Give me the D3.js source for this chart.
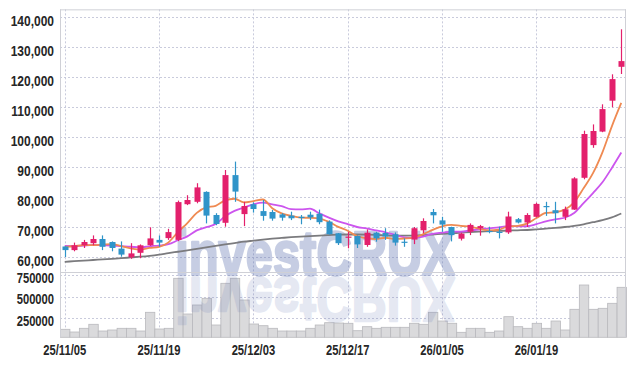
<!DOCTYPE html>
<html><head><meta charset="utf-8">
<script src="https://cdn.jsdelivr.net/npm/d3@7/dist/d3.min.js"></script>
<style>
html,body{margin:0;padding:0;background:#fff;}
svg{display:block;}
</style></head>
<body><svg id="chart" width="634" height="366"></svg>
<script>
// ---- data ----
const dates = ["25/11/05","25/11/06","25/11/07","25/11/10","25/11/11","25/11/12","25/11/13","25/11/14","25/11/17","25/11/18",
"25/11/19","25/11/20","25/11/21","25/11/24","25/11/25","25/11/26","25/11/27","25/11/28","25/12/01","25/12/02",
"25/12/03","25/12/04","25/12/05","25/12/08","25/12/09","25/12/10","25/12/11","25/12/12","25/12/15","25/12/16",
"25/12/17","25/12/18","25/12/19","25/12/22","25/12/23","25/12/24","25/12/26","25/12/29","25/12/30","26/01/02",
"26/01/05","26/01/06","26/01/07","26/01/08","26/01/09","26/01/12","26/01/13","26/01/14","26/01/15","26/01/16",
"26/01/19","26/01/20","26/01/21","26/01/22","26/01/23","26/01/26","26/01/27","26/01/28","26/01/29","26/01/30"];
const opens = [63600,62400,64000,64700,66100,65100,62900,60000,61500,64000,
65800,66400,65800,77700,78500,81800,74100,71500,87400,74400,
77700,75400,75100,74300,73900,73500,74200,74500,71900,68000,
66500,67100,64100,68200,68100,67700,65200,65900,69000,75100,
72300,70100,66200,68500,69700,68800,68500,68300,72700,71600,
73500,77100,75700,73500,75900,86500,97400,101900,112200,123500];
const highs = [63700,64900,65800,67300,67300,65300,65300,64700,64300,70000,
67300,69500,78900,80700,84700,82000,74700,89100,91900,78500,
78300,79100,75800,74700,75200,74100,75200,75900,72300,68100,
68500,67300,69300,68500,69700,68300,66300,70100,73000,76100,
73500,70200,68200,71300,70800,70200,70200,75200,73100,74700,
78200,78500,78500,76900,86700,102200,104300,111000,121000,136000];
const lows = [60100,62000,63100,64000,62400,62000,60200,59500,59700,63800,
63500,65800,65400,77400,78000,71300,70700,70200,78500,70400,
74900,72200,72200,72200,72400,71000,72400,71000,67600,64100,
63000,63100,63500,65200,65800,63900,63500,64400,68000,71300,
68500,65300,65600,67400,67200,68000,66300,67800,71300,70100,
73300,73800,71300,72400,75800,86000,96500,101700,110000,121100];
const closes = [62400,64000,65100,66100,63500,63100,60900,61300,64000,66300,
64900,68400,78400,79100,83300,73900,71100,87400,81900,77100,
76100,73800,72900,73200,73000,73300,73300,71700,67700,64700,
66900,64300,68200,66300,66900,64900,65000,69700,72100,74000,
70900,67400,67900,70800,70400,68500,68300,73600,71600,74100,
77800,76900,74700,76000,86300,101100,102100,109400,119400,125400];
// closes of the 9 sessions before 25/11/05 (needed for the moving averages)
const priorCloses = [64500,63500,64000,64500,64000,63000,63200,66000,62800];
// long moving average (grey line)
const maLong = [58500,58700,58900,59100,59300,59500,59700,59950,60200,60500,
60900,61400,61850,62300,62800,63300,63800,64300,64750,65200,
65550,65900,66200,66450,66700,66900,67050,67250,67400,67550,
67600,67600,67550,67450,67300,67200,67200,67250,67400,67600,
67800,68000,68200,68400,68550,68700,68800,68900,69000,69100,
69300,69550,69800,70100,70500,71000,71700,72400,73300,74600];
const volumes = [123500,92300,135000,181200,103900,115400,135000,135000,103900,319600,
126900,135000,711900,300000,403900,481200,173100,654200,711900,461500,
184600,165000,135000,103900,103900,103900,135000,173100,199700,196000,
192700,107300,153500,135000,146600,146600,146600,192700,181200,319600,
219200,192700,88800,135000,135000,88800,103900,268900,153500,135000,
192700,135000,219200,115400,354200,634600,354200,365800,423500,608100];
const priceTicks = [60000,70000,80000,90000,100000,110000,120000,130000,140000];
const volumeTicks = [250000,500000,750000];
const dateTickLabels = ["25/11/05","25/11/19","25/12/03","25/12/17","26/01/05","26/01/19"];
const maShortPeriod = 5, maMidPeriod = 10;

// ---- layout ----
const L = 60, R = 626, PT = 9.35, PB = 272, VT = 272.3, VB = 337.3;
const svg = d3.select("#chart");
const fontStack = "'Liberation Sans','Arial',sans-serif";
const squeeze = 0.8; // the original uses a condensed face

const x = d3.scaleBand().domain(dates).range([L, R]).padding(0);
const cx = d => x(d) + x.bandwidth() / 2;
const y = d3.scaleLinear().domain([55100, 142650]).range([PB, PT]);
const yv = d3.scaleLinear().domain([31190, 781150]).range([VB, VT]);

const candles = dates.map((d, i) => ({date: d, o: opens[i], h: highs[i], l: lows[i], c: closes[i], v: volumes[i]}));
const allCloses = priorCloses.concat(closes);
function movingAvg(n) {
  return dates.map((d, i) => {
    const end = i + priorCloses.length;
    return {date: d, v: d3.mean(allCloses.slice(end - n + 1, end + 1))};
  });
}
const ma5 = movingAvg(maShortPeriod);
const ma10 = movingAvg(maMidPeriod);
const maL = dates.map((d, i) => ({date: d, v: maLong[i]}));

// ---- grid ----
const grid = svg.append("g");
const gridColor = "#c9cbdc";
grid.selectAll("line.hp").data(priceTicks).join("line")
  .attr("x1", L).attr("x2", R).attr("y1", d => Math.round(y(d)) + 0.5).attr("y2", d => Math.round(y(d)) + 0.5)
  .attr("stroke", gridColor).attr("stroke-dasharray", "2,2");
grid.selectAll("line.hv").data(volumeTicks).join("line")
  .attr("x1", L).attr("x2", R).attr("y1", d => Math.round(yv(d)) + 0.5).attr("y2", d => Math.round(yv(d)) + 0.5)
  .attr("stroke", gridColor).attr("stroke-dasharray", "2,2");
grid.selectAll("line.v").data(dateTickLabels).join("line")
  .attr("x1", d => Math.round(cx(d)) + 0.5).attr("x2", d => Math.round(cx(d)) + 0.5)
  .attr("y1", PT).attr("y2", VB)
  .attr("stroke", gridColor).attr("stroke-dasharray", "2,2");

// ---- watermark (behind marks) ----
const wmColor = "rgb(100,120,180)";
svg.append("text").attr("transform", `translate(315,275) scale(${squeeze * 0.97},1)`).attr("text-anchor", "middle")
  .attr("font-family", fontStack).attr("font-weight", "bold").attr("font-size", 63)
  .attr("fill", wmColor).attr("stroke", wmColor).attr("stroke-width", 2.6).attr("stroke-linejoin", "round")
  .attr("opacity", 0.36).text("investCRUX");

// ---- volume bars ----
svg.append("g").selectAll("rect").data(candles).join("rect")
  .attr("x", d => x(d.date) + 0.5).attr("width", x.bandwidth())
  .attr("y", d => yv(d.v)).attr("height", d => VB - yv(d.v))
  .attr("fill", "#dadadc").attr("stroke", "#b9b9bd").attr("stroke-width", 0.8);

// reflection of the watermark over the volume panel
svg.append("defs").append("clipPath").attr("id", "vclip").append("rect")
  .attr("x", L).attr("y", VT).attr("width", R - L).attr("height", VB - VT);
svg.append("g").attr("clip-path", "url(#vclip)")
  .append("text").attr("transform", `translate(315,278) scale(${squeeze * 0.97},-1)`).attr("text-anchor", "middle")
  .attr("font-family", fontStack).attr("font-weight", "bold").attr("font-size", 63)
  .attr("fill", wmColor).attr("stroke", wmColor).attr("stroke-width", 2.6).attr("stroke-linejoin", "round")
  .attr("opacity", 0.17).text("investCRUX");

// ---- moving averages ----
const line = d3.line().x(d => cx(d.date)).y(d => y(d.v)).curve(d3.curveMonotoneX);
svg.append("path").datum(maL).attr("d", line).attr("fill", "none").attr("stroke", "#7b7b7e").attr("stroke-width", 1.8);
svg.append("path").datum(ma10).attr("d", line).attr("fill", "none").attr("stroke", "#cc55ee").attr("stroke-width", 1.8);
svg.append("path").datum(ma5).attr("d", line).attr("fill", "none").attr("stroke", "#ef8a52").attr("stroke-width", 1.8);

// ---- candles ----
const up = "#e3206c", down = "#2f94c9";
const bw = 6;
const cg = svg.append("g");
cg.selectAll("line").data(candles).join("line")
  .attr("x1", d => Math.round(cx(d.date)) + 0.5).attr("x2", d => Math.round(cx(d.date)) + 0.5)
  .attr("y1", d => y(d.h)).attr("y2", d => y(d.l))
  .attr("stroke", d => d.c >= d.o ? up : down).attr("stroke-width", 1.2);
cg.selectAll("rect").data(candles).join("rect")
  .attr("x", d => Math.round(cx(d.date)) + 0.5 - bw / 2).attr("width", bw)
  .attr("y", d => y(Math.max(d.o, d.c)))
  .attr("height", d => Math.max(1.2, Math.abs(y(d.o) - y(d.c))))
  .attr("fill", d => d.c >= d.o ? up : down);

// ---- frame ----
const frame = svg.append("g").attr("stroke", "#cfd0d6").attr("stroke-width", 1);
frame.append("line").attr("x1", L + 0.5).attr("x2", L + 0.5).attr("y1", PT).attr("y2", VB);
frame.append("line").attr("x1", R - 0.5).attr("x2", R - 0.5).attr("y1", PT).attr("y2", VB);
frame.append("line").attr("x1", L).attr("x2", R).attr("y1", PT + 0.5).attr("y2", PT + 0.5);
frame.append("line").attr("x1", L).attr("x2", R).attr("y1", PB + 0.5).attr("y2", PB + 0.5);

// ---- axes ----
function styleLeft(g, size, dy) {
  g.select(".domain").remove();
  g.selectAll(".tick text")
    .attr("font-family", fontStack).attr("font-size", size).attr("font-weight", "bold")
    .attr("fill", "#262626").attr("x", -6 / squeeze).attr("dy", dy)
    .attr("transform", `scale(${squeeze},1)`);
}
const fmt = d3.format(",");
const ga = svg.append("g").attr("transform", `translate(${L},0)`)
  .call(d3.axisLeft(y).tickValues(priceTicks).tickFormat(fmt).tickSize(0));
styleLeft(ga, 15, "0.55em");

const gv = svg.append("g").attr("transform", `translate(${L},0)`)
  .call(d3.axisLeft(yv).tickValues(volumeTicks).tickFormat(d3.format("d")).tickSize(0));
styleLeft(gv, 14, "0.5em");

const gx = svg.append("g").attr("transform", `translate(0,${VB})`)
  .call(d3.axisBottom(x).tickValues(dateTickLabels).tickSize(0).tickPadding(8));
gx.select(".domain").remove();
gx.selectAll(".tick text").attr("font-family", fontStack).attr("font-size", 14).attr("font-weight", "bold")
  .attr("fill", "#262626").attr("transform", `scale(${squeeze},1)`);
</script></body></html>
